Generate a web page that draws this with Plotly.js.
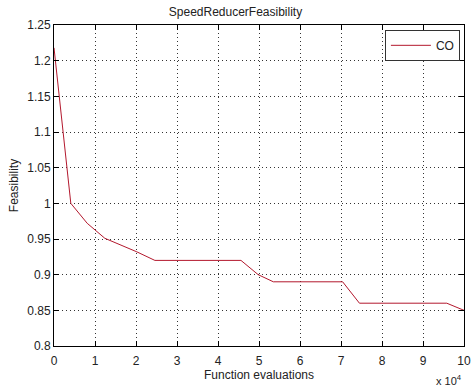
<!DOCTYPE html>
<html>
<head>
<meta charset="utf-8">
<script src="https://cdn.plot.ly/plotly-3.0.1.min.js"></script>
<style>html,body{margin:0;padding:0;background:#fff;}#chart{width:471px;height:389px;}</style>
</head>
<body>
<div id="chart"></div>
<script>
// Data
const evaluations = [0, 4100, 8100, 12400, 20200, 24600, 45600, 49800, 53500, 70400, 74500, 95800, 100000];
const feasibility = [1.218, 1.0, 0.972, 0.951, 0.932, 0.920, 0.920, 0.900, 0.890, 0.890, 0.860, 0.860, 0.850];
const seriesName = "CO";
const xTickLabels = ["0","1","2","3","4","5","6","7","8","9","10"];
const yTickLabels = ["0.8","0.85","0.9","0.95","1","1.05","1.1","1.15","1.2","1.25"];

const font = {family: "Liberation Sans, Arial, sans-serif", size: 12, color: "#222"};

const trace = {
  x: evaluations, y: feasibility, name: seriesName,
  type: "scatter", mode: "lines",
  line: {color: "#b3182d", width: 1}
};

const axisCommon = {
  showline: true, linecolor: "#000", linewidth: 1, mirror: "ticks",
  ticks: "inside", ticklen: 5, tickcolor: "#000",
  showgrid: true, gridcolor: "#333", gridwidth: 1, griddash: "1px,3px",
  zeroline: false, tickfont: font
};

const layout = {
  width: 471, height: 389,
  margin: {l: 54, r: 7, t: 25, b: 43},
  paper_bgcolor: "#fff", plot_bgcolor: "#fff",
  font: font,
  title: {text: "SpeedReducerFeasibility", font: {family: font.family, size: 12, color: "#222"}, x: 0.5, xanchor: "center", y: 0.98, yanchor: "top"},
  xaxis: Object.assign({}, axisCommon, {
    range: [0, 100000],
    tickvals: xTickLabels.map(v => Number(v) * 10000),
    ticktext: xTickLabels,
    ticklabelstandoff: 4,
    title: {text: "Function evaluations", font: font, standoff: 3}
  }),
  yaxis: Object.assign({}, axisCommon, {
    range: [0.8, 1.25],
    tickvals: yTickLabels.map(Number),
    ticktext: yTickLabels,
    title: {text: "Feasibility", font: font, standoff: 6}
  }),
  showlegend: true,
  legend: {
    x: 0.99, y: 0.985, xanchor: "right", yanchor: "top",
    bordercolor: "#333", borderwidth: 1, bgcolor: "#fff",
    font: font, itemwidth: 40
  },
  annotations: [{
    text: "x 10<sup>4</sup>", xref: "paper", yref: "paper",
    x: 1.0, y: -0.105, xanchor: "right", yanchor: "middle",
    showarrow: false, font: {family: font.family, size: 11, color: "#222"}
  }]
};

Plotly.newPlot("chart", [trace], layout, {displayModeBar: false, staticPlot: true});
</script>
</body>
</html>
